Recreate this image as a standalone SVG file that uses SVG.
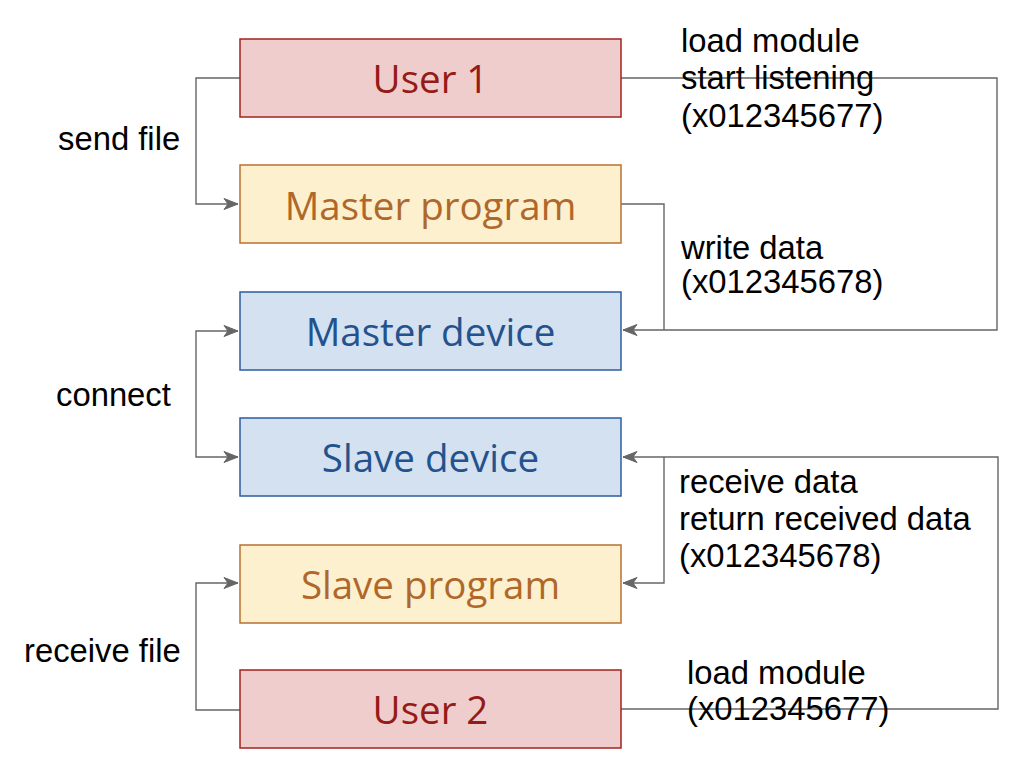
<svg xmlns="http://www.w3.org/2000/svg" width="1030" height="768" viewBox="0 0 1030 768">
<defs>
<marker id="arr" markerUnits="userSpaceOnUse" markerWidth="20" markerHeight="14" viewBox="-15 -7 16 14" refX="0" refY="0" orient="auto-start-reverse">
<path d="M0,0 L-14,-5.5 L-10,0 L-14,5.5 Z" fill="#666666" stroke="#666666" stroke-width="1"/>
</marker>
<style>
.box{stroke-width:1.5}
.red{fill:#EFCDCC;stroke:#A3221C}
.yel{fill:#FCF0CF;stroke:#B8722F}
.blu{fill:#D3E1F1;stroke:#2C5C9C}
.bt{font-family:"Open Sans",Lato,sans-serif;font-size:38.5px;text-anchor:middle}
.tred{fill:#951B16}
.tyel{fill:#B0682A}
.tblu{fill:#23528C}
.lbl{font-family:"Liberation Sans",Arial,sans-serif;font-size:32.8px;fill:#000}
.con{fill:none;stroke:#666666;stroke-width:1.4}
</style>
</defs>
<rect width="1030" height="768" fill="#ffffff"/>
<g id="connectors">
<path class="con" d="M240,78 H196 V204 H238" marker-end="url(#arr)"/>
<path class="con" d="M621,78 H997 V330 H623" marker-end="url(#arr)"/>
<path class="con" d="M621,204 H664 V330"/>
<path class="con" d="M238,331 H196 V457 H238" marker-start="url(#arr)" marker-end="url(#arr)"/>
<path class="con" d="M621,709 H998 V457 H623" marker-end="url(#arr)"/>
<path class="con" d="M664,457 V583 H623" marker-end="url(#arr)"/>
<path class="con" d="M240,710 H196 V583 H238" marker-end="url(#arr)"/>
</g>
<g id="user1"><rect class="box red" x="240" y="39" width="381" height="78"/><text class="bt tred" x="430.5" y="93">User 1</text></g>
<g id="master-program"><rect class="box yel" x="240" y="165" width="381" height="78"/><text class="bt tyel" x="430.5" y="220">Master program</text></g>
<g id="master-device"><rect class="box blu" x="240" y="292" width="381" height="78"/><text class="bt tblu" x="430.5" y="346">Master device</text></g>
<g id="slave-device"><rect class="box blu" x="240" y="418" width="381" height="78"/><text class="bt tblu" x="430.5" y="472">Slave device</text></g>
<g id="slave-program"><rect class="box yel" x="240" y="545" width="381" height="78"/><text class="bt tyel" x="430.5" y="599">Slave program</text></g>
<g id="user2"><rect class="box red" x="240" y="670" width="381" height="78"/><text class="bt tred" x="430.5" y="724">User 2</text></g>
<g id="labels">
<text class="lbl" x="681" y="52">load module</text>
<text class="lbl" x="681" y="89">start listening</text>
<text class="lbl" x="681" y="127">(x012345677)</text>
<text class="lbl" x="681" y="259">write data</text>
<text class="lbl" x="681" y="293">(x012345678)</text>
<text class="lbl" x="58" y="150">send file</text>
<text class="lbl" x="56" y="406">connect</text>
<text class="lbl" x="679" y="493">receive data</text>
<text class="lbl" x="679" y="530">return received data</text>
<text class="lbl" x="679" y="567">(x012345678)</text>
<text class="lbl" x="24" y="662">receive file</text>
<text class="lbl" x="687" y="684">load module</text>
<text class="lbl" x="687" y="720">(x012345677)</text>
</g>
</svg>
